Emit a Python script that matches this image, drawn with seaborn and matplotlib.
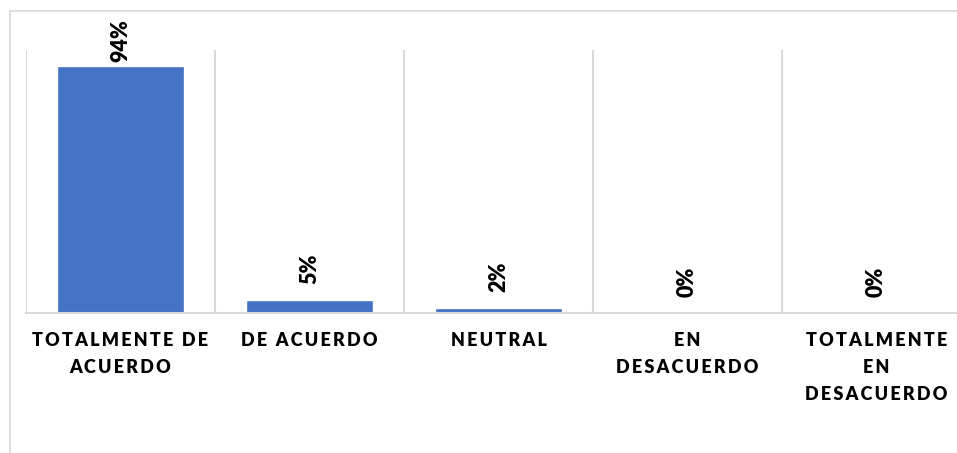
import matplotlib
matplotlib.use("Agg")
import matplotlib.pyplot as plt
import seaborn as sns
import pandas as pd
from matplotlib.lines import Line2D

# Chart data
categories = ["TOTALMENTE DE\nACUERDO", "DE ACUERDO", "NEUTRAL",
              "EN\nDESACUERDO", "TOTALMENTE\nEN\nDESACUERDO"]
values = [0.94, 0.05, 0.02, 0.0, 0.0]

df = pd.DataFrame({"categoria": categories, "valor": values})

sns.set_theme(style="white")
plt.rcParams['font.family'] = ['Lato', 'DejaVu Sans']

GRID = "#d9d9d9"
BAR = "#4472C4"

W, H = 957, 453
fig = plt.figure(figsize=(W / 100, H / 100), dpi=100)
# plot area: x 26..971 px, y 50..313 px (from top)
ax = fig.add_axes([26 / W, (H - 313) / H, 945 / W, 263 / H])

sns.barplot(data=df, x="categoria", y="valor", color=BAR, width=0.667,
            saturation=1, ax=ax)

ax.set_xlim(-0.5, len(categories) - 0.5)
ax.set_ylim(0, 1)
ax.set_xlabel("")
ax.set_ylabel("")
ax.set_yticks([])

# vertical separators between categories
ax.set_xticks([i - 0.5 for i in range(len(categories) + 1)], minor=True)
ax.grid(True, which="minor", axis="x", color=GRID, linewidth=1.5)
ax.grid(False, which="major")
ax.tick_params(axis="x", which="both", length=0)

for s in ["top", "right", "left"]:
    ax.spines[s].set_visible(False)
ax.spines["bottom"].set_color(GRID)
ax.spines["bottom"].set_linewidth(1.5)


def spaced(txt):
    # imitate the wide letter spacing of the original labels
    return "\n".join("\u2009".join(line) for line in txt.split("\n"))


ax.set_xticks(range(len(categories)))
ax.set_xticklabels([spaced(c) for c in categories], fontsize=13,
                   fontweight="heavy", color="black", linespacing=1.7)
ax.tick_params(axis="x", which="major", pad=14)

# data labels, rotated, above the bars
for i, v in enumerate(values):
    bar_top = 50 + (1 - v) * 263
    off_px = min(16, bar_top - 62)
    ax.annotate(f"{v:.0%}", xy=(i, v), xytext=(0, off_px * 0.72),
                textcoords="offset points", rotation=90, ha="center",
                va="bottom", fontsize=15.5, fontweight="heavy", color="black",
                annotation_clip=False)

# outer chart frame (left and top edges visible)
fig.add_artist(Line2D([10 / W, 10 / W], [0, 1 - 11 / H], color=GRID,
                      linewidth=1.2, transform=fig.transFigure))
fig.add_artist(Line2D([10 / W, 1], [1 - 11 / H, 1 - 11 / H], color=GRID,
                      linewidth=1.2, transform=fig.transFigure))

fig.savefig("out.png", dpi=100)
